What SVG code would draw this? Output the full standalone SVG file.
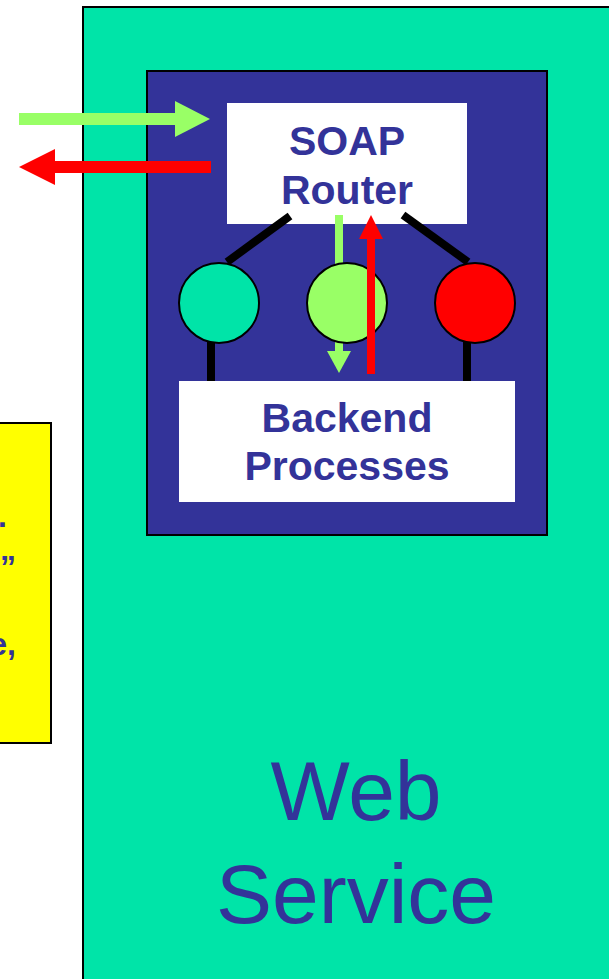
<svg xmlns="http://www.w3.org/2000/svg" width="609" height="979" viewBox="0 0 609 979">
<style>
  .lbl { font-family: "Liberation Sans", Arial, sans-serif; font-weight: bold; font-size: 41px; fill: #333399; text-anchor: middle; }
  .big { font-family: "Liberation Sans", Arial, sans-serif; font-size: 84px; fill: #333399; text-anchor: middle; }
  .note { font-family: "Liberation Sans", Arial, sans-serif; font-weight: bold; font-size: 32px; fill: #333399; text-anchor: end; }
  .wire { stroke: #000; stroke-width: 8; stroke-linecap: butt; fill: none; }
  .ball { stroke: #000; stroke-width: 2; }
</style>
<rect width="609" height="979" fill="#ffffff"/>
<g id="web-service">
  <rect x="83" y="7" width="540" height="990" fill="#00E4A8" stroke="#000" stroke-width="2"/>
  <text class="big" x="356" y="820">Web</text>
  <text class="big" x="356" y="923">Service</text>
</g>
<g id="container">
  <rect x="147" y="71" width="400" height="464" fill="#333399" stroke="#000" stroke-width="2"/>
</g>
<g id="soap-router">
  <rect x="227" y="103" width="240" height="121" fill="#ffffff"/>
  <text class="lbl" x="347" y="155">SOAP</text>
  <text class="lbl" x="347" y="204">Router</text>
</g>
<g id="backend">
  <rect x="179" y="381" width="336" height="121" fill="#ffffff"/>
  <text class="lbl" x="347" y="432">Backend</text>
  <text class="lbl" x="347" y="480">Processes</text>
</g>
<g id="connectors">
  <line class="wire" x1="290" y1="216" x2="227" y2="262"/>
  <line class="wire" x1="403" y1="215" x2="468" y2="262"/>
  <line class="wire" x1="211" y1="340" x2="211" y2="381"/>
  <line class="wire" x1="467" y1="340" x2="467" y2="381"/>
  <g id="down-arrow" fill="#99FF66">
    <rect x="335" y="215" width="8" height="137"/>
    <polygon points="327,351 351,351 339,373"/>
  </g>
</g>
<g id="node-teal"><circle class="ball" cx="219" cy="303" r="40" fill="#00E4A8"/></g>
<g id="node-green"><circle class="ball" cx="347" cy="303" r="40" fill="#99FF66"/></g>
<g id="node-red"><circle class="ball" cx="475" cy="303" r="40" fill="#FF0000"/></g>
<g id="connectors-front">
  <g id="up-arrow" fill="#FF0000">
    <rect x="367" y="238" width="8" height="136"/>
    <polygon points="359,239 383,239 371,215"/>
  </g>
  <g id="request-arrow" fill="#99FF66">
    <rect x="19" y="113" width="157" height="12"/>
    <polygon points="175,101 210,119 175,137"/>
  </g>
  <g id="response-arrow" fill="#FF0000">
    <rect x="54" y="161" width="157" height="12"/>
    <polygon points="55,149 19,167 55,185"/>
  </g>
</g>
<g id="note">
  <rect x="-10" y="423" width="61" height="320" fill="#FFFF00" stroke="#000" stroke-width="2"/>
  <text class="note" x="7" y="527">D.</text>
  <text class="note" x="16" y="560">,„</text>
  <text class="note" x="16" y="655">e,</text>
</g>
</svg>
